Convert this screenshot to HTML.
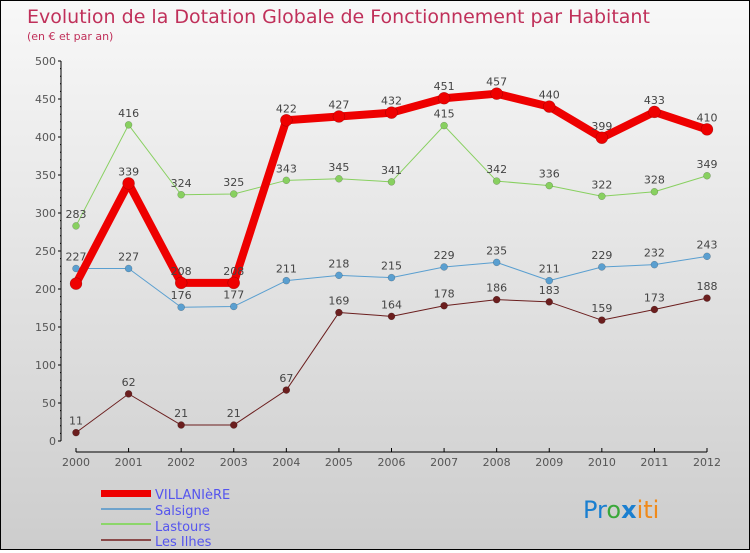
<!DOCTYPE html>
<html><head><meta charset="utf-8"><style>
html,body{margin:0;padding:0}
body{width:750px;height:550px;overflow:hidden;font-family:"DejaVu Sans","Liberation Sans",sans-serif}
#wrap{position:absolute;left:0;top:0;width:748px;height:548px;border:1px solid #000;background:linear-gradient(#f8f8f8,#cdcdcd)}
</style></head><body>
<div id="wrap">
<svg id="chart" width="748" height="548" xmlns="http://www.w3.org/2000/svg">
<text x="26" y="22" font-size="19" fill="#c0305a">Evolution de la Dotation Globale de Fonctionnement par Habitant</text>
<text x="26" y="39" font-size="11" fill="#c0305a">(en € et par an)</text>
<g id="axes"></g><g id="series"></g><g id="labels"></g>
<g>
<rect x="100" y="489" width="50" height="7" fill="#e00"/>
<text x="154" y="498" font-size="13" fill="#5555ee">VILLANIèRE</text>
<rect x="100" y="507" width="50" height="2" fill="#6fa3cc"/>
<text x="154" y="514" font-size="13" fill="#5555ee">Salsigne</text>
<rect x="100" y="522" width="50" height="2" fill="#8cd66a"/>
<text x="154" y="530" font-size="13" fill="#5555ee">Lastours</text>
<rect x="100" y="538" width="50" height="2" fill="#8a4a4a"/>
<text x="154" y="545" font-size="13" fill="#5555ee">Les Ilhes</text>
</g>
<text x="582" y="517" font-size="24" font-family="'DejaVu Sans',sans-serif"><tspan fill="#1a7fd0">Pr</tspan><tspan fill="#3aa83a">o</tspan><tspan fill="#1a7fd0" font-weight="bold">x</tspan><tspan fill="#f08a1a">iti</tspan></text>
</svg></div>
<script>
const years=[2000,2001,2002,2003,2004,2005,2006,2007,2008,2009,2010,2011,2012];
const villaniere=[207,339,208,208,422,427,432,451,457,440,399,433,410];
const salsigne=[227,227,176,177,211,218,215,229,235,211,229,232,243];
const lastours=[283,416,324,325,343,345,341,415,342,336,322,328,349];
const lesIlhes=[11,62,21,21,67,169,164,178,186,183,159,173,188];
const yTicks=[0,50,100,150,200,250,300,350,400,450,500];
const NS="http://www.w3.org/2000/svg";
const xs=i=>75+i*(706-75)/(years.length-1);
const ys=v=>440-v*0.76;
function mk(t,a,p){const e=document.createElementNS(NS,t);for(const k in a)e.setAttribute(k,a[k]);p.appendChild(e);return e;}
const axes=document.getElementById('axes');
mk('line',{x1:60,y1:ys(500),x2:60,y2:ys(0),stroke:'#000'},axes);
yTicks.forEach(v=>{
 const t=mk('line',{x1:57,y1:ys(v),x2:60,y2:ys(v),stroke:'#000'},axes);
 
 const l=mk('text',{x:55,y:ys(v)+4,'font-size':11,fill:'#555','text-anchor':'end'},axes);l.textContent=v;
 
});
for(let v=10;v<500;v+=10){if(v%50)mk('line',{x1:59,y1:ys(v),x2:60,y2:ys(v),stroke:'#000'},axes);}
mk('line',{x1:75,y1:451,x2:706,y2:451,stroke:'#000'},axes);
years.forEach((y,i)=>{
 mk('line',{x1:xs(i),y1:447,x2:xs(i),y2:451,stroke:'#000'},axes);
 const l=mk('text',{x:xs(i),y:465,'font-size':11,fill:'#555','text-anchor':'middle'},axes);l.textContent=y;
 
});
const sg=document.getElementById('series'),lg=document.getElementById('labels');
function draw(vals,color,w,r,name,showFirst){
 const p=mk('polyline',{points:vals.map((v,i)=>xs(i)+','+ys(v)).join(' '),fill:'none',stroke:color,'stroke-width':w,'stroke-linejoin':'round'},sg);
 
 vals.forEach((v,i)=>{
  const c=mk('circle',{cx:xs(i),cy:ys(v),r:r,fill:color,stroke:'rgba(0,0,0,0.3)','stroke-width':0.5},sg);
  
  if(i>0||showFirst){const t=mk('text',{x:xs(i),y:ys(v)-8,'font-size':11,fill:'#444','text-anchor':'middle'},lg);t.textContent=v;
  }
 });
}
draw(lesIlhes,'#6b1e1e',1,3.5,'les-ilhes',true);
draw(salsigne,'#5a9fd0',1,3.5,'salsigne',true);
draw(lastours,'#88d060',1,3.5,'lastours',true);
draw(villaniere,'#ee0000',8,6,'villaniere',false);
</script>
</body></html>
